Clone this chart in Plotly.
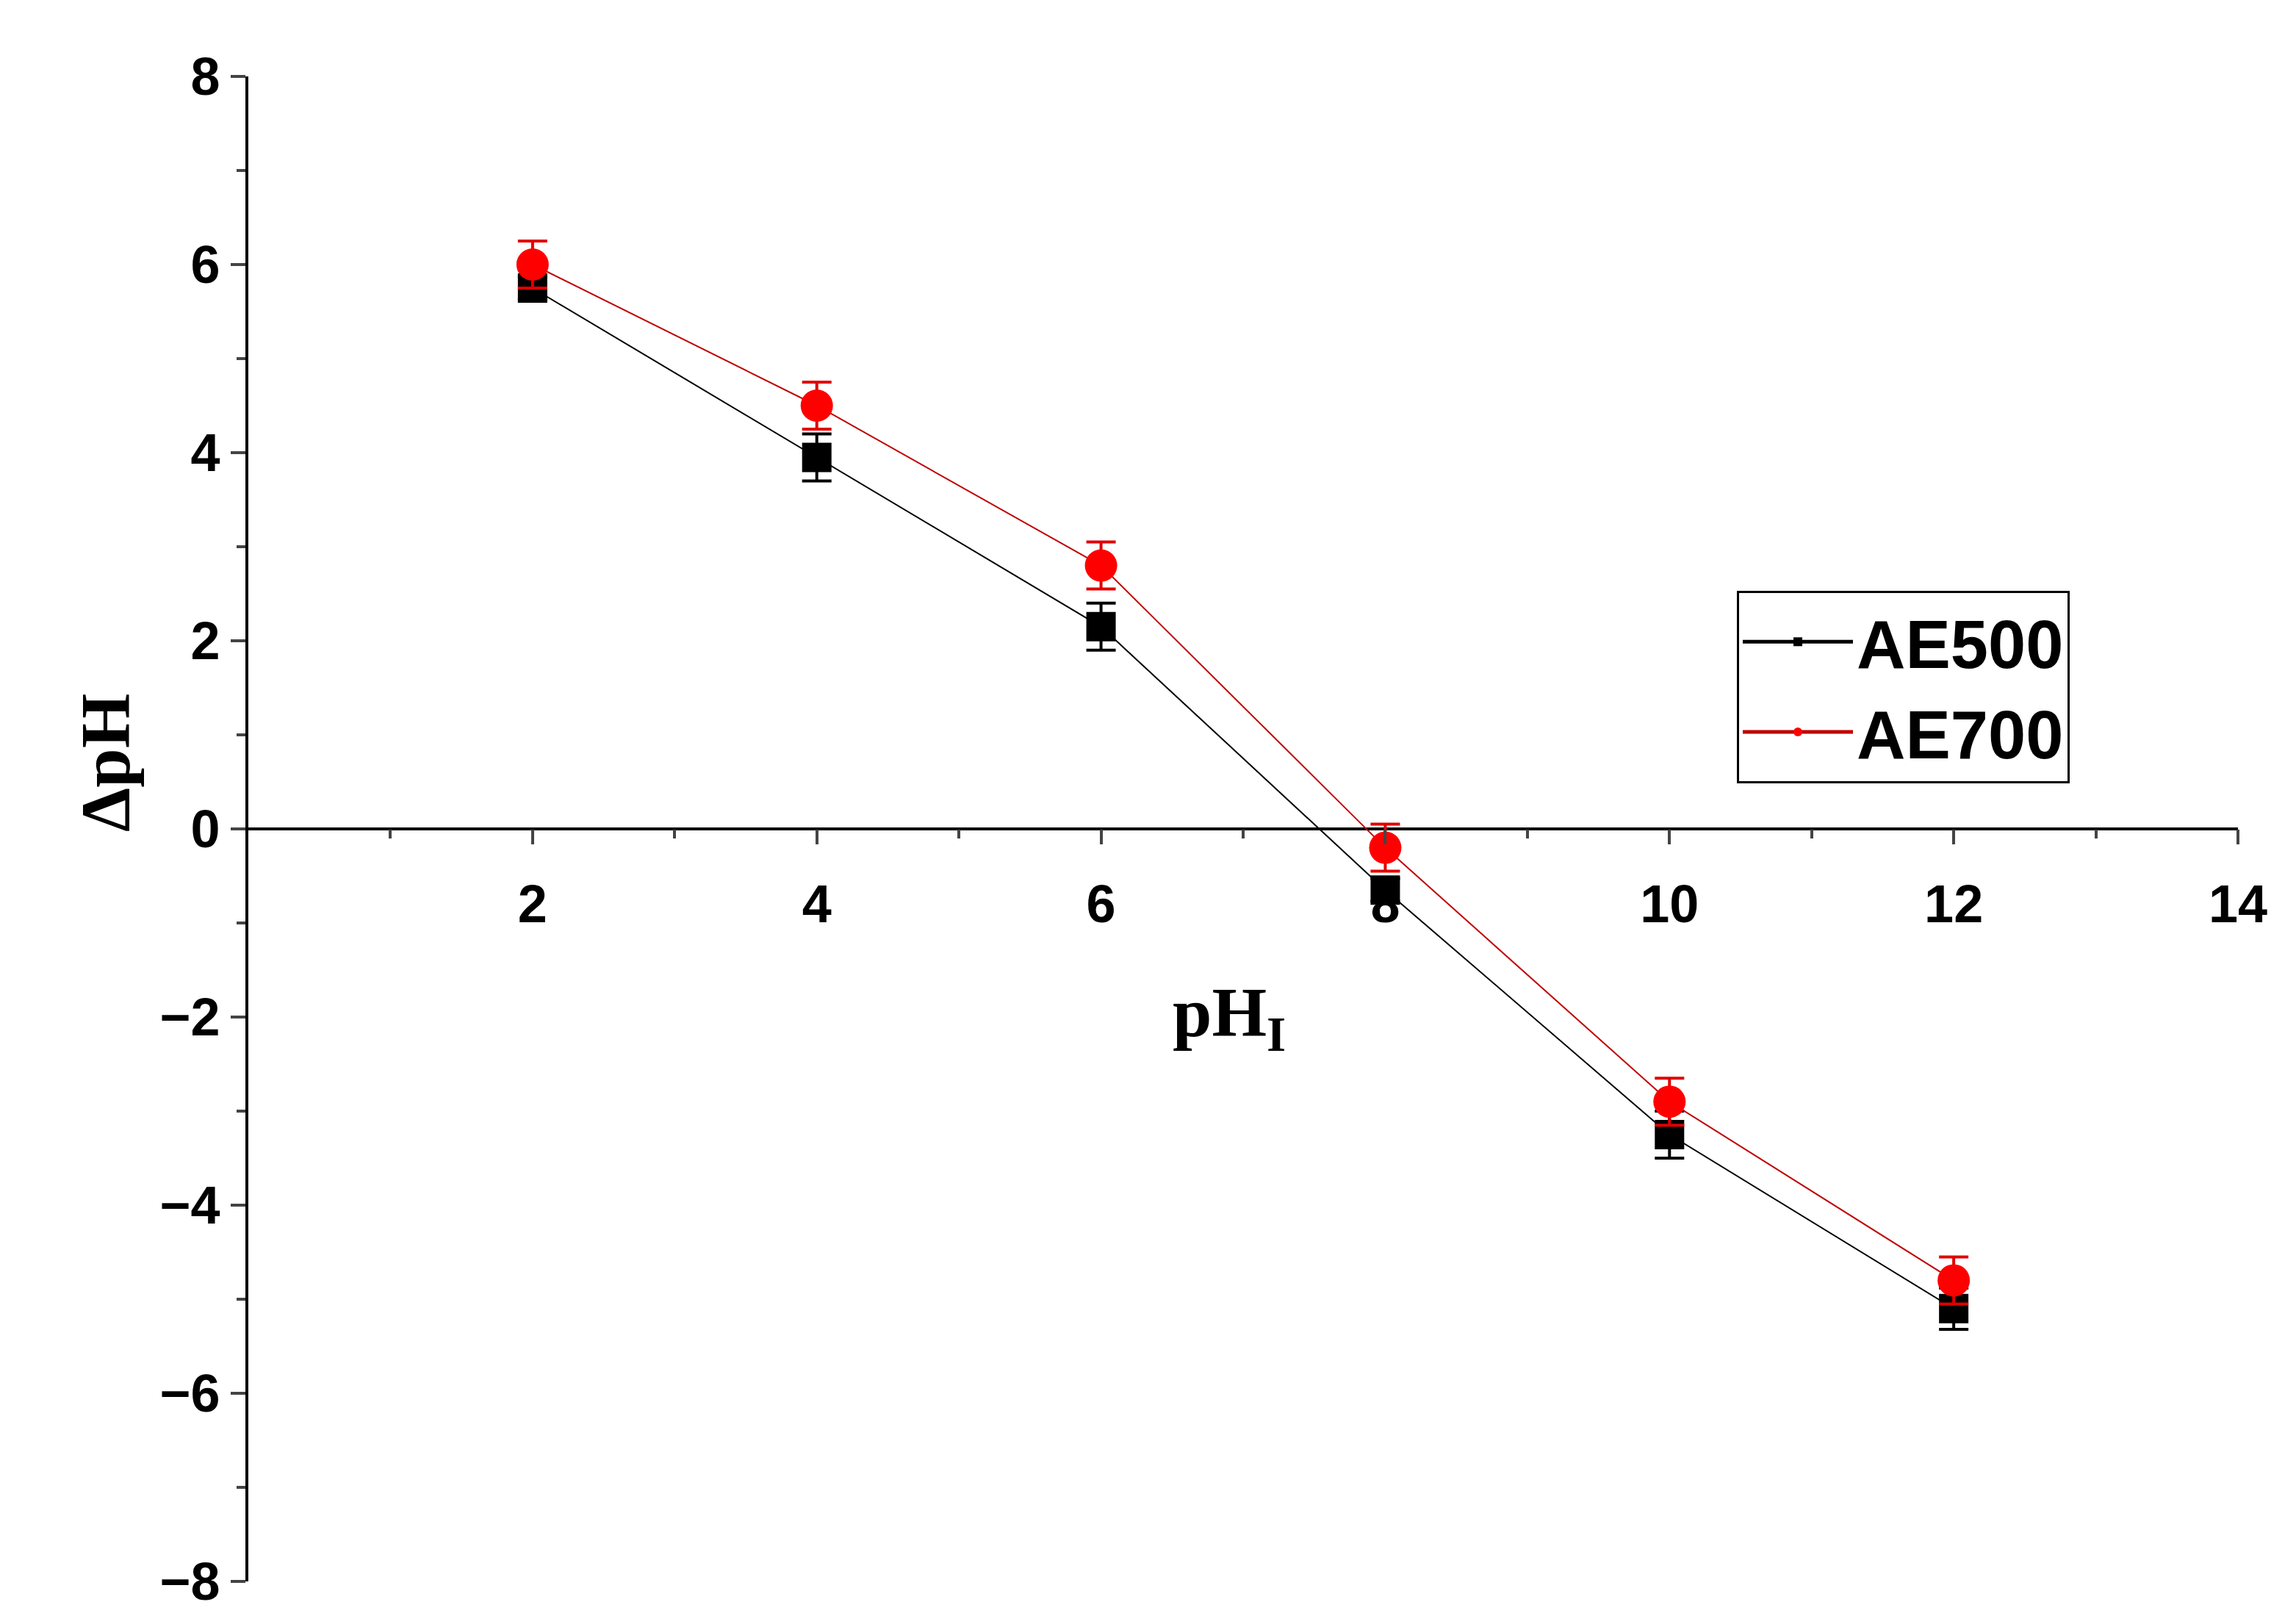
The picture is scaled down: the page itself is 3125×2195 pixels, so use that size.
import plotly.graph_objects as go

ph_initial = [2, 4, 6, 8, 10, 12]
ae500 = [5.75, 3.95, 2.15, -0.65, -3.25, -5.1]
ae500_err = [0.12, 0.25, 0.25, 0.12, 0.25, 0.22]
ae700 = [6.0, 4.5, 2.8, -0.2, -2.9, -4.8]
ae700_err = [0.25, 0.25, 0.25, 0.25, 0.25, 0.25]
x_ticks = [2, 4, 6, 8, 10, 12, 14]
y_ticks = [-8, -6, -4, -2, 0, 2, 4, 6, 8]
y_labels = ["\u22128", "\u22126", "\u22124", "\u22122", "0", "2", "4", "6", "8"]

fig = go.Figure()
fig.add_trace(go.Scatter(
    x=ph_initial, y=ae500, name="AE500", mode="lines+markers",
    line=dict(color="black", width=2),
    marker=dict(symbol="square", size=40, color="black"),
    error_y=dict(type="data", array=ae500_err, color="black", thickness=4, width=20)))
fig.add_trace(go.Scatter(
    x=ph_initial, y=ae700, name="AE700", mode="lines+markers",
    line=dict(color="#c00000", width=2),
    marker=dict(symbol="circle", size=44, color="red"),
    error_y=dict(type="data", array=ae700_err, color="#e00000", thickness=4, width=20)))

tickfont = dict(family="Liberation Sans, Arial", size=72, color="black", weight="bold")
fig.update_layout(
    width=3125, height=2195, plot_bgcolor="white", paper_bgcolor="white",
    margin=dict(l=330, r=87, t=96, b=51),
    showlegend=True,
    legend=dict(x=(2356 - 330) / (3038 - 330), y=1 - (796 - 96) / (2144 - 96),
                xref="paper", yref="paper", itemwidth=150, itemsizing="constant",
                font=dict(family="Liberation Sans, Arial", size=92, color="black", weight="bold"),
                bordercolor="black", borderwidth=3, bgcolor="white",
                xanchor="left", yanchor="top"),
    xaxis=dict(range=[0, 14], tickvals=x_ticks, ticks="outside", ticklen=20, tickwidth=4,
               showline=False, showgrid=False, zeroline=False, anchor="free", position=0.5,
               tickfont=tickfont, ticklabelstandoff=20,
               minor=dict(tickvals=[1, 3, 5, 7, 9, 11, 13], ticks="outside", ticklen=12, tickwidth=4)),
    yaxis=dict(range=[-8, 8], tickvals=y_ticks, ticktext=y_labels, ticks="outside", ticklen=20,
               tickwidth=4, showline=True, linewidth=4, linecolor="black", showgrid=False,
               zeroline=True, zerolinecolor="black", zerolinewidth=4,
               tickfont=tickfont,
               minor=dict(tickvals=[-7, -5, -3, -1, 1, 3, 5, 7], ticks="outside", ticklen=12, tickwidth=4)),
)
fig.add_annotation(text="pH<sub>I</sub>", x=6.9, y=-2.0, xref="x", yref="y", showarrow=False,
                   font=dict(family="Liberation Serif, Times New Roman", size=96, color="black", weight="bold"))
fig.add_annotation(text="\u0394pH", x=-0.0, xref="paper", xshift=-250, y=0.7, yref="y", showarrow=False,
                   textangle=-90,
                   font=dict(family="Liberation Serif, Times New Roman", size=96, color="black", weight="bold"))
fig.write_html("out.html")
